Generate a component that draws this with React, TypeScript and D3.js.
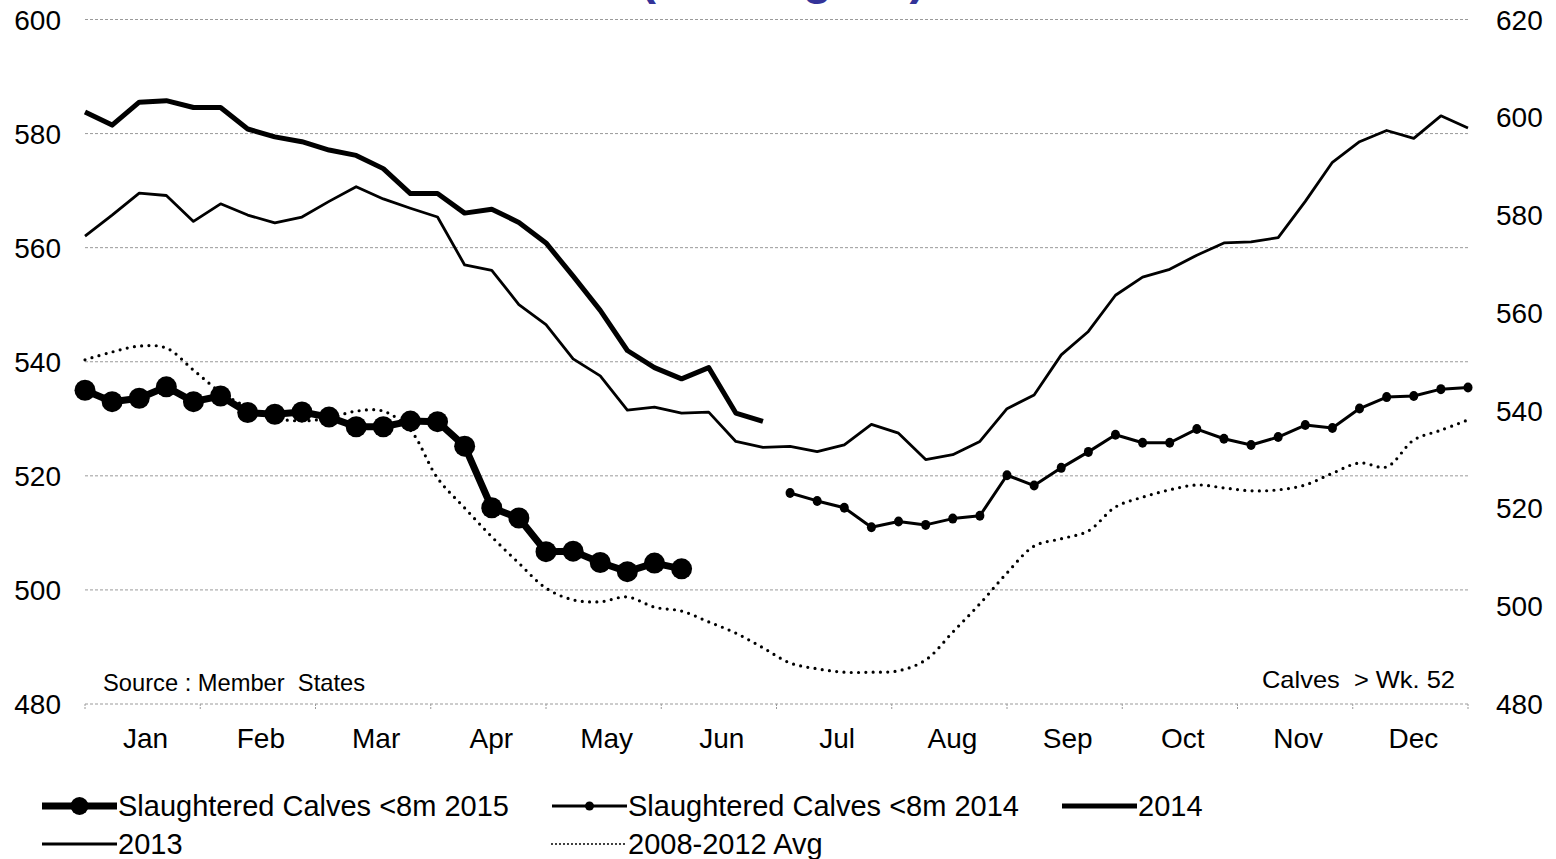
import { useEffect, useRef } from 'react';
import * as d3 from 'd3';

// Weekly categories and month labels
const weeks = d3.range(1, 53);
const months = ['Jan', 'Feb', 'Mar', 'Apr', 'May', 'Jun', 'Jul', 'Aug', 'Sep', 'Oct', 'Nov', 'Dec'];
const leftTicks = [480, 500, 520, 540, 560, 580, 600];
const rightTicks = [480, 500, 520, 540, 560, 580, 600, 620];

// Slaughtered calves <8m (left axis), weeks 1-23
const calves2015 = [
  535.0, 533.0, 533.6, 535.6, 533.0, 534.0, 531.1, 530.8, 531.2, 530.3, 528.6, 528.6,
  529.6, 529.5, 525.2, 514.4, 512.6, 506.7, 506.8, 504.8, 503.2, 504.7, 503.7,
];
// Slaughtered calves <8m 2014 (left axis), weeks 27-52
const calves2014 = [
  517.0, 515.6, 514.4, 511.0, 512.0, 511.4, 512.5, 513.0, 520.1, 518.3, 521.4, 524.2,
  527.2, 525.8, 525.8, 528.2, 526.5, 525.4, 526.8, 528.9, 528.4, 531.8, 533.8, 534.0,
  535.2, 535.5,
];
// Calves > wk 52 (right axis)
const price2014 = [
  601.1, 598.4, 603.1, 603.4, 602.0, 602.0, 597.6, 596.0, 595.0, 593.3, 592.2, 589.5,
  584.4, 584.4, 580.4, 581.2, 578.5, 574.3, 567.5, 560.5, 552.3, 548.8, 546.5, 548.8,
  539.5, 537.8,
];
const price2013 = [
  575.7, 580.0, 584.5, 584.0, 578.7, 582.3, 580.0, 578.4, 579.6, 582.8, 585.8, 583.3,
  581.4, 579.6, 569.8, 568.7, 561.7, 557.6, 550.6, 547.1, 540.1, 540.7, 539.5, 539.7,
  533.7, 532.5, 532.7, 531.6, 533.0, 537.2, 535.4, 530.0, 531.0, 533.7, 540.4, 543.2,
  551.4, 556.2, 563.6, 567.3, 568.9, 571.8, 574.3, 574.5, 575.4, 582.8, 590.8, 595.0,
  597.3, 595.7, 600.3, 597.8,
];
const avg0812 = [
  550.4, 552.0, 553.2, 552.8, 548.3, 543.8, 540.7, 538.5, 537.9, 538.5, 539.9, 539.9,
  536.0, 526.2, 520.1, 514.2, 508.8, 503.7, 501.3, 500.9, 501.9, 499.8, 499.0, 496.8,
  494.5, 491.5, 488.4, 487.2, 486.5, 486.5, 486.8, 489.0, 494.7, 500.5, 506.8, 512.3,
  513.8, 515.4, 520.3, 522.3, 523.8, 524.8, 524.2, 523.6, 523.8, 524.8, 527.2, 529.3,
  528.5, 534.0, 536.0, 538.1,
];

const FONT = '"Liberation Sans", Arial, sans-serif';

export default function App() {
  const svgRef = useRef<SVGSVGElement>(null);

  useEffect(() => {
    if (!svgRef.current) return;
    document.body.style.margin = '0';
    const svg = d3.select(svgRef.current);
    svg.selectAll('*').remove();

    const x0 = 85;
    const x1 = 1468;
    const yTop = 19.5;
    const yBase = 704;

    const x = d3.scalePoint<number>().domain(weeks).range([x0, x1]);
    const xm = d3.scaleBand<string>().domain(months).range([x0, x1]);
    const yL = d3.scaleLinear().domain([480, 600]).range([yBase, yTop]);
    const yR = d3.scaleLinear().domain([480, 620]).range([yBase, yTop]);

    svg.append('rect').attr('width', 1556).attr('height', 859).attr('fill', '#fff');

    // Title (cut off at the top, as in the source)
    svg.append('text')
      .attr('x', 640)
      .attr('y', -6)
      .attr('font-family', FONT)
      .attr('font-size', 48)
      .attr('font-weight', 'bold')
      .attr('fill', '#333399')
      .text('(€/100kg cw)');

    // Gridlines
    svg.append('g')
      .selectAll('line')
      .data(leftTicks)
      .join('line')
      .attr('x1', x0)
      .attr('x2', x1)
      .attr('y1', (d) => yL(d))
      .attr('y2', (d) => yL(d))
      .attr('stroke', '#9a9a9a')
      .attr('stroke-width', 1)
      .attr('stroke-dasharray', '3,2');

    // Month tick marks
    svg.append('g')
      .selectAll('line')
      .data(d3.range(months.length + 1))
      .join('line')
      .attr('x1', (i) => x0 + i * xm.step())
      .attr('x2', (i) => x0 + i * xm.step())
      .attr('y1', yBase)
      .attr('y2', yBase + 6)
      .attr('stroke', '#9a9a9a')
      .attr('stroke-dasharray', '2,1');

    // Axis labels
    svg.append('g')
      .selectAll('text')
      .data(leftTicks)
      .join('text')
      .attr('x', 61)
      .attr('y', (d) => yL(d) + 10)
      .attr('text-anchor', 'end')
      .attr('font-family', FONT)
      .attr('font-size', 28)
      .text((d) => d);

    svg.append('g')
      .selectAll('text')
      .data(rightTicks)
      .join('text')
      .attr('x', 1496)
      .attr('y', (d) => yR(d) + 10)
      .attr('font-family', FONT)
      .attr('font-size', 28)
      .text((d) => d);

    svg.append('g')
      .selectAll('text')
      .data(months)
      .join('text')
      .attr('x', (d) => (xm(d) ?? 0) + xm.bandwidth() / 2 + 3)
      .attr('y', 748)
      .attr('text-anchor', 'middle')
      .attr('font-family', FONT)
      .attr('font-size', 28)
      .text((d) => d);

    // Annotations
    svg.append('text')
      .attr('x', 103)
      .attr('y', 691)
      .attr('font-family', FONT)
      .attr('font-size', 24)
      .attr('textLength', 262)
      .attr('lengthAdjust', 'spacingAndGlyphs')
      .style('white-space', 'pre')
      .text('Source : Member  States');

    svg.append('text')
      .attr('x', 1262)
      .attr('y', 688)
      .attr('font-family', FONT)
      .attr('font-size', 24)
      .attr('textLength', 193)
      .attr('lengthAdjust', 'spacingAndGlyphs')
      .style('white-space', 'pre')
      .text('Calves  > Wk. 52');

    // Series
    const mkLine = (start: number, y: d3.ScaleLinear<number, number>, curve: d3.CurveFactory) =>
      d3.line<number>()
        .x((_, i) => x(start + i) ?? 0)
        .y((d) => y(d))
        .curve(curve);

    svg.append('path')
      .attr('d', mkLine(1, yR, d3.curveCatmullRom.alpha(0.5))(avg0812))
      .attr('fill', 'none')
      .attr('stroke', '#000')
      .attr('stroke-width', 3.2)
      .attr('stroke-linecap', 'round')
      .attr('stroke-dasharray', '0,7.3');

    svg.append('path')
      .attr('d', mkLine(1, yR, d3.curveLinear)(price2013))
      .attr('fill', 'none')
      .attr('stroke', '#000')
      .attr('stroke-width', 2.8)
      .attr('stroke-linejoin', 'round');

    svg.append('path')
      .attr('d', mkLine(1, yR, d3.curveLinear)(price2014))
      .attr('fill', 'none')
      .attr('stroke', '#000')
      .attr('stroke-width', 5)
      .attr('stroke-linejoin', 'round');

    svg.append('path')
      .attr('d', mkLine(27, yL, d3.curveLinear)(calves2014))
      .attr('fill', 'none')
      .attr('stroke', '#000')
      .attr('stroke-width', 3)
      .attr('stroke-linejoin', 'round');

    svg.append('g')
      .selectAll('ellipse')
      .data(calves2014)
      .join('ellipse')
      .attr('cx', (_, i) => x(27 + i) ?? 0)
      .attr('cy', (d) => yL(d))
      .attr('rx', 4.5)
      .attr('ry', 5)
      .attr('fill', '#000');

    svg.append('path')
      .attr('d', mkLine(1, yL, d3.curveLinear)(calves2015))
      .attr('fill', 'none')
      .attr('stroke', '#000')
      .attr('stroke-width', 7)
      .attr('stroke-linejoin', 'round');

    svg.append('g')
      .selectAll('circle')
      .data(calves2015)
      .join('circle')
      .attr('cx', (_, i) => x(1 + i) ?? 0)
      .attr('cy', (d) => yL(d))
      .attr('r', 10.5)
      .attr('fill', '#000');

    // Legend
    const legend = [
      { label: 'Slaughtered Calves <8m 2015', col: 42, row: 806, width: 7, marker: 9, dash: null },
      { label: 'Slaughtered Calves <8m 2014', col: 552, row: 806, width: 3, marker: 4.5, dash: null },
      { label: '2014', col: 1062, row: 806, width: 5, marker: 0, dash: null },
      { label: '2013', col: 42, row: 844, width: 2.8, marker: 0, dash: null },
      { label: '2008-2012 Avg', col: 552, row: 844, width: 2, marker: 0, dash: '0,4' },
    ];
    const symW = 75;
    const lg = svg.append('g');
    legend.forEach((item) => {
      lg.append('line')
        .attr('x1', item.col)
        .attr('x2', item.col + symW)
        .attr('y1', item.row)
        .attr('y2', item.row)
        .attr('stroke', '#000')
        .attr('stroke-width', item.width)
        .attr('stroke-linecap', item.dash ? 'round' : 'butt')
        .attr('stroke-dasharray', item.dash);
      if (item.marker) {
        lg.append('circle')
          .attr('cx', item.col + symW / 2)
          .attr('cy', item.row)
          .attr('r', item.marker)
          .attr('fill', '#000');
      }
      lg.append('text')
        .attr('x', item.col + symW + 1)
        .attr('y', item.row + 10)
        .attr('font-family', FONT)
        .attr('font-size', 29)
        .text(item.label);
    });
  }, []);

  return (
    <svg
      ref={svgRef}
      width={1556}
      height={859}
      style={{ position: 'absolute', left: 0, top: 0, display: 'block' }}
    />
  );
}
